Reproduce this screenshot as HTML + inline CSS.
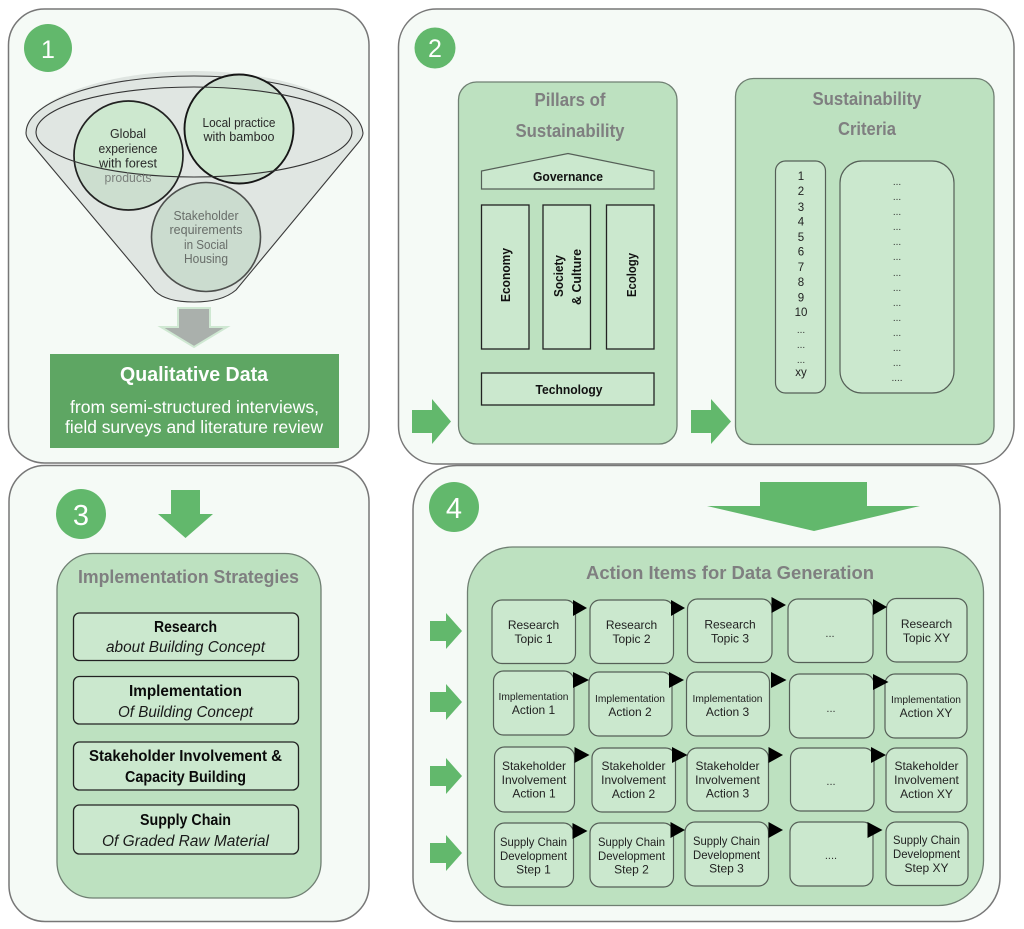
<!DOCTYPE html>
<html><head><meta charset="utf-8"><style>
html,body{margin:0;padding:0;background:#fff}
svg{display:block;filter:blur(.35px)}
text{font-family:"Liberation Sans",sans-serif;text-anchor:middle}
.p{fill:#f5faf6;stroke:#777;stroke-width:1.5}
.m{fill:#bde1c0;stroke:#6f7f72;stroke-width:1.3}
.l{fill:#cbe8ce;stroke:#555f57;stroke-width:1.2}
.k{fill:#cbe8ce;stroke:#222;stroke-width:1.3}
.g{fill:#62b86c}
.n{fill:#fff;font-size:27px}
.h{fill:#7f7f80;font-weight:bold;font-size:18px}
.c{fill:#2a2a2a;font-size:12.5px}
.b{fill:#0a0a0a;font-weight:bold;font-size:15.5px}
.i{fill:#1a1a1a;font-style:italic;font-size:15.5px}
.s{fill:#111;font-weight:bold;font-size:12.5px}
.a{fill:#222;font-size:12px}
.t{fill:#222;font-size:11.5px}
.d{fill:#333;font-size:11px}
</style></head><body>
<svg xmlns="http://www.w3.org/2000/svg" width="1024" height="929" viewBox="0 0 1024 929">
<defs>
<clipPath id="e"><ellipse cx="194" cy="132" rx="158" ry="45"/></clipPath>
</defs>
<rect width="1024" height="929" fill="#fff"/>
<rect class="p" x="8.5" y="9" width="360.5" height="454" rx="36"/>
<rect class="p" x="398.5" y="9" width="615.5" height="455" rx="38"/>
<rect class="p" x="9" y="465.5" width="360" height="456" rx="36"/>
<rect class="p" x="413" y="465.5" width="587" height="456" rx="44"/>

<!-- Panel 1 -->
<circle class="g" cx="48" cy="48" r="24"/><text class="n" x="48" y="58" style="font-size:25px">1</text>
<path d="M26 133C26 100 105 71 194 71C283 71 360 100 363 133Q363 137 358 143L236 290Q222 302 194 302Q166 302 155 291L30 142Q26 137 26 133Z" fill="#dfe5e1"/>
<path d="M26 133C26 100 105 76 194 76C283 76 360 100 363 133Q363 137 358 143L236 290Q222 302 194 302Q166 302 155 291L30 142Q26 137 26 133Z" fill="#e0e6e2" stroke="#3a3a3a" stroke-width="1.1"/>
<circle cx="128.500" cy="155.500" r="54.500" fill="#ccdecf"/>
<circle cx="239" cy="129" r="54.500" fill="#ccdecf"/>
<circle cx="206" cy="237" r="54.500" fill="#cbdccf" stroke="#4d4f4d" stroke-width="1.6"/>
<g clip-path="url(#e)"><circle cx="128.500" cy="155.500" r="54.500" fill="#cde8cf"/><circle cx="239" cy="129" r="54.500" fill="#cde8cf"/></g>
<circle cx="128.500" cy="155.500" r="54.500" fill="none" stroke="#222" stroke-width="1.7"/>
<circle cx="239" cy="129" r="54.500" fill="none" stroke="#161616" stroke-width="1.9"/>
<ellipse cx="194" cy="132" rx="158" ry="45" fill="none" stroke="#333" stroke-width="1.1"/>
<text class="c" x="128" y="138" textLength="36" lengthAdjust="spacingAndGlyphs">Global</text>
<text class="c" x="128" y="153" textLength="59" lengthAdjust="spacingAndGlyphs">experience</text>
<text class="c" x="128" y="167.500" textLength="58" lengthAdjust="spacingAndGlyphs">with forest</text>
<text class="c" x="128" y="182" textLength="47" lengthAdjust="spacingAndGlyphs" style="fill:#7b807c">products</text>
<text class="c" x="239" y="127" textLength="73" lengthAdjust="spacingAndGlyphs">Local practice</text>
<text class="c" x="239" y="141" textLength="71" lengthAdjust="spacingAndGlyphs">with bamboo</text>
<text class="c" x="206" y="220" textLength="65" lengthAdjust="spacingAndGlyphs" style="fill:#686d69">Stakeholder</text>
<text class="c" x="206" y="234" textLength="73" lengthAdjust="spacingAndGlyphs" style="fill:#686d69">requirements</text>
<text class="c" x="206" y="249" textLength="44" lengthAdjust="spacingAndGlyphs" style="fill:#686d69">in Social</text>
<text class="c" x="206" y="263" textLength="44" lengthAdjust="spacingAndGlyphs" style="fill:#686d69">Housing</text>
<path d="M178 308H210V327H227L194 347L161 327H178Z" fill="#aab0ac" stroke="#cfe8d2" stroke-width="2"/>
<rect x="50" y="354" width="289" height="94" fill="#5ea663"/>
<text x="194" y="381" textLength="148" lengthAdjust="spacingAndGlyphs" style="fill:#fff;font-weight:bold;font-size:20px">Qualitative Data</text>
<text x="194.500" y="413" textLength="249" lengthAdjust="spacingAndGlyphs" style="fill:#fff;font-size:17.500px">from semi-structured interviews,</text>
<text x="194" y="433" textLength="258" lengthAdjust="spacingAndGlyphs" style="fill:#fff;font-size:17.500px">field surveys and literature review</text>

<!-- Panel 2 -->
<ellipse class="g" cx="435" cy="48" rx="20.500" ry="20.500"/><text class="n" x="435" y="57" style="font-size:25px">2</text>
<rect class="m" x="458.500" y="82" width="218.500" height="362" rx="18"/>
<rect class="m" x="735.500" y="78.500" width="258.500" height="366" rx="18"/>
<text class="h" x="570" y="106" textLength="71" lengthAdjust="spacingAndGlyphs">Pillars of</text>
<text class="h" x="570" y="137" textLength="109" lengthAdjust="spacingAndGlyphs">Sustainability</text>
<text class="h" x="867" y="105" textLength="109" lengthAdjust="spacingAndGlyphs">Sustainability</text>
<text class="h" x="867" y="135" textLength="58" lengthAdjust="spacingAndGlyphs">Criteria</text>
<path class="l" d="M481.500 189V171L568 153.500L654 171V189Z"/>
<text class="s" x="568" y="181" textLength="70" lengthAdjust="spacingAndGlyphs">Governance</text>
<rect class="k" x="481.500" y="205" width="47.500" height="144"/>
<rect class="k" x="543" y="205" width="47.500" height="144"/>
<rect class="k" x="606.500" y="205" width="47.500" height="144"/>
<rect class="k" x="481.500" y="373" width="172.500" height="32"/>
<text class="s" x="569" y="394" textLength="67" lengthAdjust="spacingAndGlyphs">Technology</text>
<text class="s" transform="translate(510 275) rotate(-90)" textLength="54" lengthAdjust="spacingAndGlyphs">Economy</text>
<text class="s" transform="translate(563 276) rotate(-90)" textLength="42" lengthAdjust="spacingAndGlyphs">Society</text>
<text class="s" transform="translate(581 277) rotate(-90)" textLength="56" lengthAdjust="spacingAndGlyphs">&amp; Culture</text>
<text class="s" transform="translate(636 275) rotate(-90)" textLength="44" lengthAdjust="spacingAndGlyphs">Ecology</text>
<rect class="l" x="775.500" y="161" width="50" height="232" rx="10"/>
<rect class="l" x="840" y="161" width="114" height="232" rx="22"/>
<g>
<text class="a" x="801" y="180" style="font-size:11.500px">1</text><text class="a" x="801" y="195" style="font-size:11.500px">2</text><text class="a" x="801" y="211" style="font-size:11.500px">3</text><text class="a" x="801" y="225.500" style="font-size:11.500px">4</text><text class="a" x="801" y="241" style="font-size:11.500px">5</text><text class="a" x="801" y="255.500" style="font-size:11.500px">6</text><text class="a" x="801" y="271" style="font-size:11.500px">7</text><text class="a" x="801" y="286" style="font-size:11.500px">8</text><text class="a" x="801" y="301.500" style="font-size:11.500px">9</text><text class="a" x="801" y="316" style="font-size:11.500px">10</text>
<text class="d" x="801" y="333" style="font-size:10px">...</text><text class="d" x="801" y="348" style="font-size:10px">...</text><text class="d" x="801" y="363" style="font-size:10px">...</text>
<text class="a" x="801" y="376" style="font-size:11.500px">xy</text>
<text class="d" x="897" y="185" style="font-size:10px">...</text><text class="d" x="897" y="200" style="font-size:10px">...</text><text class="d" x="897" y="215" style="font-size:10px">...</text><text class="d" x="897" y="230" style="font-size:10px">...</text><text class="d" x="897" y="245" style="font-size:10px">...</text><text class="d" x="897" y="260" style="font-size:10px">...</text><text class="d" x="897" y="276" style="font-size:10px">...</text><text class="d" x="897" y="291" style="font-size:10px">...</text><text class="d" x="897" y="306" style="font-size:10px">...</text><text class="d" x="897" y="321" style="font-size:10px">...</text><text class="d" x="897" y="336" style="font-size:10px">...</text><text class="d" x="897" y="351" style="font-size:10px">...</text><text class="d" x="897" y="366" style="font-size:10px">...</text><text class="d" x="897" y="381" style="font-size:10px">....</text>
</g>
<path class="g" d="M412 410H432V399L451 421.500L432 444V433H412Z"/>
<path class="g" d="M691 410H711V399L731 421.500L711 444V433H691Z"/>

<!-- Panel 3 -->
<circle class="g" cx="81" cy="514" r="25"/><text class="n" x="81" y="525" style="font-size:29px">3</text>
<path class="g" d="M171 490H200V514H213L185.500 538L158 514H171Z"/>
<rect class="m" x="57" y="553.500" width="264" height="344.500" rx="36"/>
<text class="h" x="188.500" y="583" textLength="221" lengthAdjust="spacingAndGlyphs">Implementation Strategies</text>
<rect class="k" x="73.500" y="613" width="225" height="47.500" rx="6"/>
<rect class="k" x="73.500" y="676.500" width="225" height="47.500" rx="6"/>
<rect class="k" x="73.500" y="742" width="225" height="48" rx="6"/>
<rect class="k" x="73.500" y="805" width="225" height="49" rx="6"/>
<text class="b" x="185.500" y="632" textLength="63" lengthAdjust="spacingAndGlyphs">Research</text>
<text class="i" x="185.500" y="652" textLength="159" lengthAdjust="spacingAndGlyphs">about Building Concept</text>
<text class="b" x="185.500" y="696" textLength="113" lengthAdjust="spacingAndGlyphs">Implementation</text>
<text class="i" x="185.500" y="717" textLength="135" lengthAdjust="spacingAndGlyphs">Of Building Concept</text>
<text class="b" x="185.500" y="761" textLength="193" lengthAdjust="spacingAndGlyphs">Stakeholder Involvement &amp;</text>
<text class="b" x="185.500" y="782" textLength="121" lengthAdjust="spacingAndGlyphs">Capacity Building</text>
<text class="b" x="185.500" y="825" textLength="91" lengthAdjust="spacingAndGlyphs">Supply Chain</text>
<text class="i" x="185.500" y="846" textLength="167" lengthAdjust="spacingAndGlyphs">Of Graded Raw Material</text>

<!-- Panel 4 -->
<ellipse class="g" cx="454" cy="507" rx="25" ry="25"/><text class="n" x="454" y="518" style="font-size:29px">4</text>
<path class="g" d="M760 482H867V506H920L814 531L707 506H760Z"/>
<rect class="m" x="467.500" y="547" width="516" height="358.500" rx="45"/>
<text class="h" x="730" y="579" textLength="288" lengthAdjust="spacingAndGlyphs">Action Items for Data Generation</text>
<g>
<rect class="l" x="492" y="600" width="83.500" height="63.500" rx="10"/><rect class="l" x="590" y="600" width="83.500" height="63.500" rx="10"/><rect class="l" x="687.500" y="599" width="84.500" height="63.500" rx="10"/><rect class="l" x="788" y="599" width="85" height="63.500" rx="10"/><rect class="l" x="886.500" y="598.500" width="80.500" height="63.500" rx="10"/>
<rect class="l" x="493.500" y="671" width="80.500" height="64" rx="10"/><rect class="l" x="589" y="672" width="83" height="64" rx="10"/><rect class="l" x="686.500" y="672" width="83" height="64" rx="10"/><rect class="l" x="789.500" y="674" width="84.500" height="64" rx="10"/><rect class="l" x="885" y="674" width="82" height="64" rx="10"/>
<rect class="l" x="494.500" y="747" width="80" height="65" rx="10"/><rect class="l" x="592" y="748" width="83.500" height="64" rx="10"/><rect class="l" x="687" y="748" width="81.500" height="63" rx="10"/><rect class="l" x="790.500" y="748" width="83.500" height="63" rx="10"/><rect class="l" x="886" y="748" width="81" height="64" rx="10"/>
<rect class="l" x="494.500" y="823" width="79" height="64" rx="10"/><rect class="l" x="590" y="823" width="83.500" height="64" rx="10"/><rect class="l" x="685" y="822" width="83.500" height="64" rx="10"/><rect class="l" x="790" y="822" width="83" height="64" rx="10"/><rect class="l" x="886" y="822" width="82" height="63.500" rx="10"/>
</g>
<g fill="#000">
<path d="M573 600L587 608L573 616Z"/><path d="M671 600L685 608L671 616Z"/><path d="M771.500 597L786 605L771.500 613Z"/><path d="M873 599L887 607L873 615Z"/>
<path d="M573 672L589 680L573 688Z"/><path d="M669 672L684 680L669 688Z"/><path d="M771 672L786.500 680L771 688Z"/><path d="M873 674L888.500 682L873 690Z"/>
<path d="M574.500 747L589.500 755L574.500 763Z"/><path d="M672 747L687.500 755L672 763Z"/><path d="M768.500 747L783 755L768.500 763Z"/><path d="M871 747L886 755L871 763Z"/>
<path d="M572.500 823L587.500 831L572.500 839Z"/><path d="M670.500 822L685 830L670.500 838Z"/><path d="M768.500 822L783 830L768.500 838Z"/><path d="M867.500 822L882.500 830L867.500 838Z"/>
</g>
<g class="g">
<path d="M430 621H446V613L462 631L446 649V641H430Z"/>
<path d="M430 692H446V684L462 702L446 720V712H430Z"/>
<path d="M430 766H446V758L462 776L446 794V786H430Z"/>
<path d="M430 843H446V835L462 853L446 871V863H430Z"/>
</g>
<text class="a" x="533.500" y="629">Research</text><text class="a" x="533.500" y="643">Topic 1</text>
<text class="a" x="631.500" y="629">Research</text><text class="a" x="631.500" y="643">Topic 2</text>
<text class="a" x="730" y="628.500">Research</text><text class="a" x="730" y="642.500">Topic 3</text>
<text class="d" x="830" y="637">...</text>
<text class="a" x="926.500" y="628">Research</text><text class="a" x="926.500" y="642">Topic XY</text>
<text class="t" x="533.500" y="700" textLength="70" lengthAdjust="spacingAndGlyphs" style="font-size:10.500px">Implementation</text><text class="a" x="533.500" y="714">Action 1</text>
<text class="t" x="630" y="702" textLength="70" lengthAdjust="spacingAndGlyphs" style="font-size:10.500px">Implementation</text><text class="a" x="630" y="716">Action 2</text>
<text class="t" x="727.500" y="702" textLength="70" lengthAdjust="spacingAndGlyphs" style="font-size:10.500px">Implementation</text><text class="a" x="727.500" y="716">Action 3</text>
<text class="d" x="831" y="712">...</text>
<text class="t" x="926" y="703" textLength="70" lengthAdjust="spacingAndGlyphs" style="font-size:10.500px">Implementation</text><text class="a" x="926" y="717">Action XY</text>
<text class="a" x="534" y="770">Stakeholder</text><text class="a" x="534" y="784">Involvement</text><text class="a" x="534" y="797.500">Action 1</text>
<text class="a" x="633.500" y="770">Stakeholder</text><text class="a" x="633.500" y="784">Involvement</text><text class="a" x="633.500" y="798">Action 2</text>
<text class="a" x="727.500" y="770">Stakeholder</text><text class="a" x="727.500" y="784">Involvement</text><text class="a" x="727.500" y="797.500">Action 3</text>
<text class="d" x="831" y="785">...</text>
<text class="a" x="926.500" y="770">Stakeholder</text><text class="a" x="926.500" y="784">Involvement</text><text class="a" x="926.500" y="798">Action XY</text>
<text class="a" x="533.500" y="846" textLength="67" lengthAdjust="spacingAndGlyphs">Supply Chain</text><text class="a" x="533.500" y="860" textLength="67" lengthAdjust="spacingAndGlyphs">Development</text><text class="a" x="533.500" y="873.500">Step 1</text>
<text class="a" x="631.500" y="846" textLength="67" lengthAdjust="spacingAndGlyphs">Supply Chain</text><text class="a" x="631.500" y="860" textLength="67" lengthAdjust="spacingAndGlyphs">Development</text><text class="a" x="631.500" y="873.500">Step 2</text>
<text class="a" x="726.500" y="845" textLength="67" lengthAdjust="spacingAndGlyphs">Supply Chain</text><text class="a" x="726.500" y="859" textLength="67" lengthAdjust="spacingAndGlyphs">Development</text><text class="a" x="726.500" y="872.500">Step 3</text>
<text class="d" x="831" y="859">....</text>
<text class="a" x="926.500" y="844" textLength="67" lengthAdjust="spacingAndGlyphs">Supply Chain</text><text class="a" x="926.500" y="858" textLength="67" lengthAdjust="spacingAndGlyphs">Development</text><text class="a" x="926.500" y="872">Step XY</text>
</svg>
</body></html>
